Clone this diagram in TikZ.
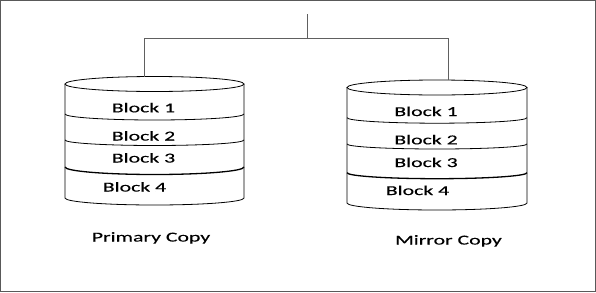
\documentclass[tikz,border=0pt]{standalone}
\usepackage{fontspec}
\setmainfont{Carlito}[FakeStretch=1.6, FakeBold=0.3]
\usetikzlibrary{positioning}

\begin{document}
\begin{tikzpicture}[
    x=1pt, y=1pt,
    font=\fontsize{13.6}{15}\selectfont,
    disk/.style={
        draw=black,
        line width=0.8pt
    },
    divider/.style={
        draw=black,
        line width=0.8pt
    },
    thickdivider/.style={
        divider,
        line width=1.3pt
    },
    blocklabel/.style={
        anchor=base,
        inner sep=0pt
    },
    copylabel/.style={
        anchor=base,
        inner sep=0pt
    },
    link/.style={
        draw=gray!75!black,
        line width=0.8pt
    }
]

\useasboundingbox (0,0) rectangle (596,-292);
\draw[gray!70!black, line width=1pt] (0.5,-0.5) rectangle (595.5,-291.5);

% Primary copy disk
\begin{scope}[shift={(154.5,-84)}]
    \draw[disk] (0,0) ellipse [x radius=89.5, y radius=7.5];
    \draw[disk] (-89.5,0) -- (-89.5,-114) arc[start angle=180, end angle=360, x radius=89.5, y radius=7] -- (89.5,0);
    \draw[divider] (-89.5,-30) arc[start angle=180, end angle=360, x radius=89.5, y radius=6];
    \draw[divider] (-89.5,-56) arc[start angle=180, end angle=360, x radius=89.5, y radius=5.5];
    \draw[thickdivider] (-89.5,-83) arc[start angle=180, end angle=360, x radius=89.5, y radius=7.5];
    \node[blocklabel] (p1) at (-11,-28.3) {Block 1};
    \node[blocklabel] (p2) at (-11,-56.5) {Block 2};
    \node[blocklabel] (p3) at (-11,-78.5) {Block 3};
    \node[blocklabel] (p4) at (-20,-107.5) {Block 4};
    \coordinate (primarytop) at (-10.5,7.45);
\end{scope}

% Mirror copy disk
\begin{scope}[shift={(437,-87.5)}]
    \draw[disk] (0,0) ellipse [x radius=90, y radius=7.5];
    \draw[disk] (-90,0) -- (-90,-115.5) arc[start angle=180, end angle=360, x radius=90, y radius=7] -- (90,0);
    \draw[divider] (-90,-30.2) arc[start angle=180, end angle=360, x radius=90, y radius=5.5];
    \draw[divider] (-90,-56.5) arc[start angle=180, end angle=360, x radius=90, y radius=5];
    \draw[thickdivider] (-90,-85.2) arc[start angle=180, end angle=360, x radius=90, y radius=6];
    \node[blocklabel] (m1) at (-11,-28.5) {Block 1};
    \node[blocklabel] (m2) at (-11,-56.8) {Block 2};
    \node[blocklabel] (m3) at (-11,-79.5) {Block 3};
    \node[blocklabel] (m4) at (-19.5,-107.5) {Block 4};
    \coordinate (mirrortop) at (11,7.44);
\end{scope}

% Labels
\node[copylabel] (primary) at (151,-241.5) {Primary Copy};
\node[copylabel] (mirror) at (448.5,-244.5) {Mirror Copy};

% Connectors
\coordinate (hub) at (307,-14);
\coordinate (split) at (307,-38);
\draw[link] (hub) -- (split);
\draw[link] (split) -| (primarytop);
\draw[link] (split) -| (mirrortop);

\end{tikzpicture}
\end{document}
